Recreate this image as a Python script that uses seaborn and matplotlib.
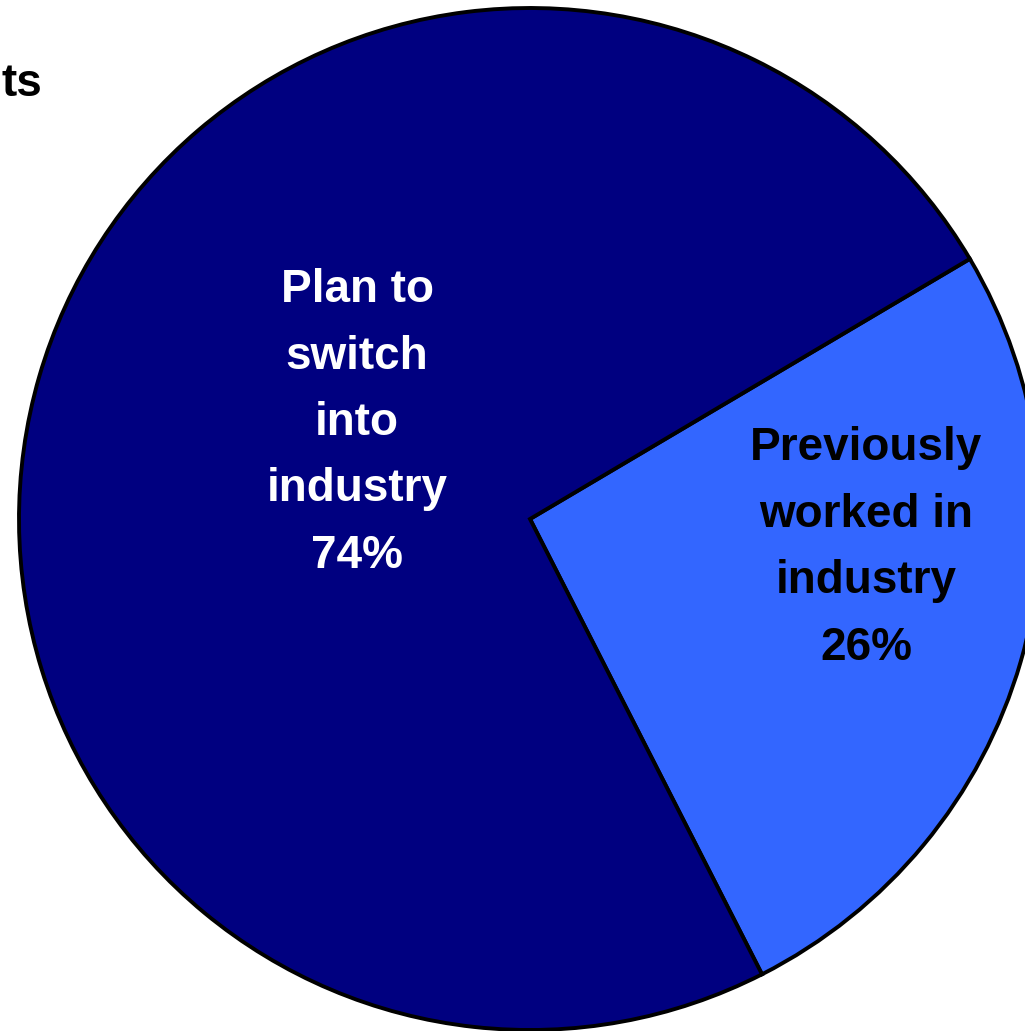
import matplotlib
matplotlib.use("Agg")
import matplotlib.pyplot as plt
import seaborn as sns

# Data
categories = ["Previously worked in industry", "Plan to switch into industry"]
shares = [26, 74]
label_texts = ["Previously\nworked in\nindustry\n26%", "Plan to\nswitch\ninto\nindustry\n74%"]
colors = ["#3366FF", "#000080"]
text_colors = ["black", "white"]
title_fragment = "ts"

sns.set_theme(style="white")
plt.rcParams['font.family'] = ['Liberation Sans', 'DejaVu Sans']

W, H = 1025, 1031
fig = plt.figure(figsize=(W / 100, H / 100), dpi=100)
ax = fig.add_axes([0, 0, 1, 1])

wedges, _ = ax.pie(shares, colors=colors, startangle=30.6, counterclock=False,
                   radius=1.0, center=(0, 0),
                   wedgeprops=dict(edgecolor="black", linewidth=2.8))

# pixel mapping: center at (530, 519) px, radius 511 px
cx, cy, r = 530, 519, 511
ax.set_aspect('auto')
ax.set_xlim(-cx / r, (W - cx) / r)
ax.set_ylim(-(H - cy) / r, cy / r)
ax.axis('off')

label_pos = [((866 - cx) / r, (cy - 548) / r), ((357 - cx) / r, (cy - 423) / r)]
for (x, y), t, c in zip(label_pos, label_texts, text_colors):
    ax.text(x, y, t, ha='center', va='center', color=c, fontsize=33,
            fontweight='bold', linespacing=1.66)

fig.text(2 / W, 1 - 84 / H, title_fragment, ha='left', va='center',
         fontsize=33, fontweight='bold', color='black')

fig.savefig("out.png", dpi=100, facecolor="white")
